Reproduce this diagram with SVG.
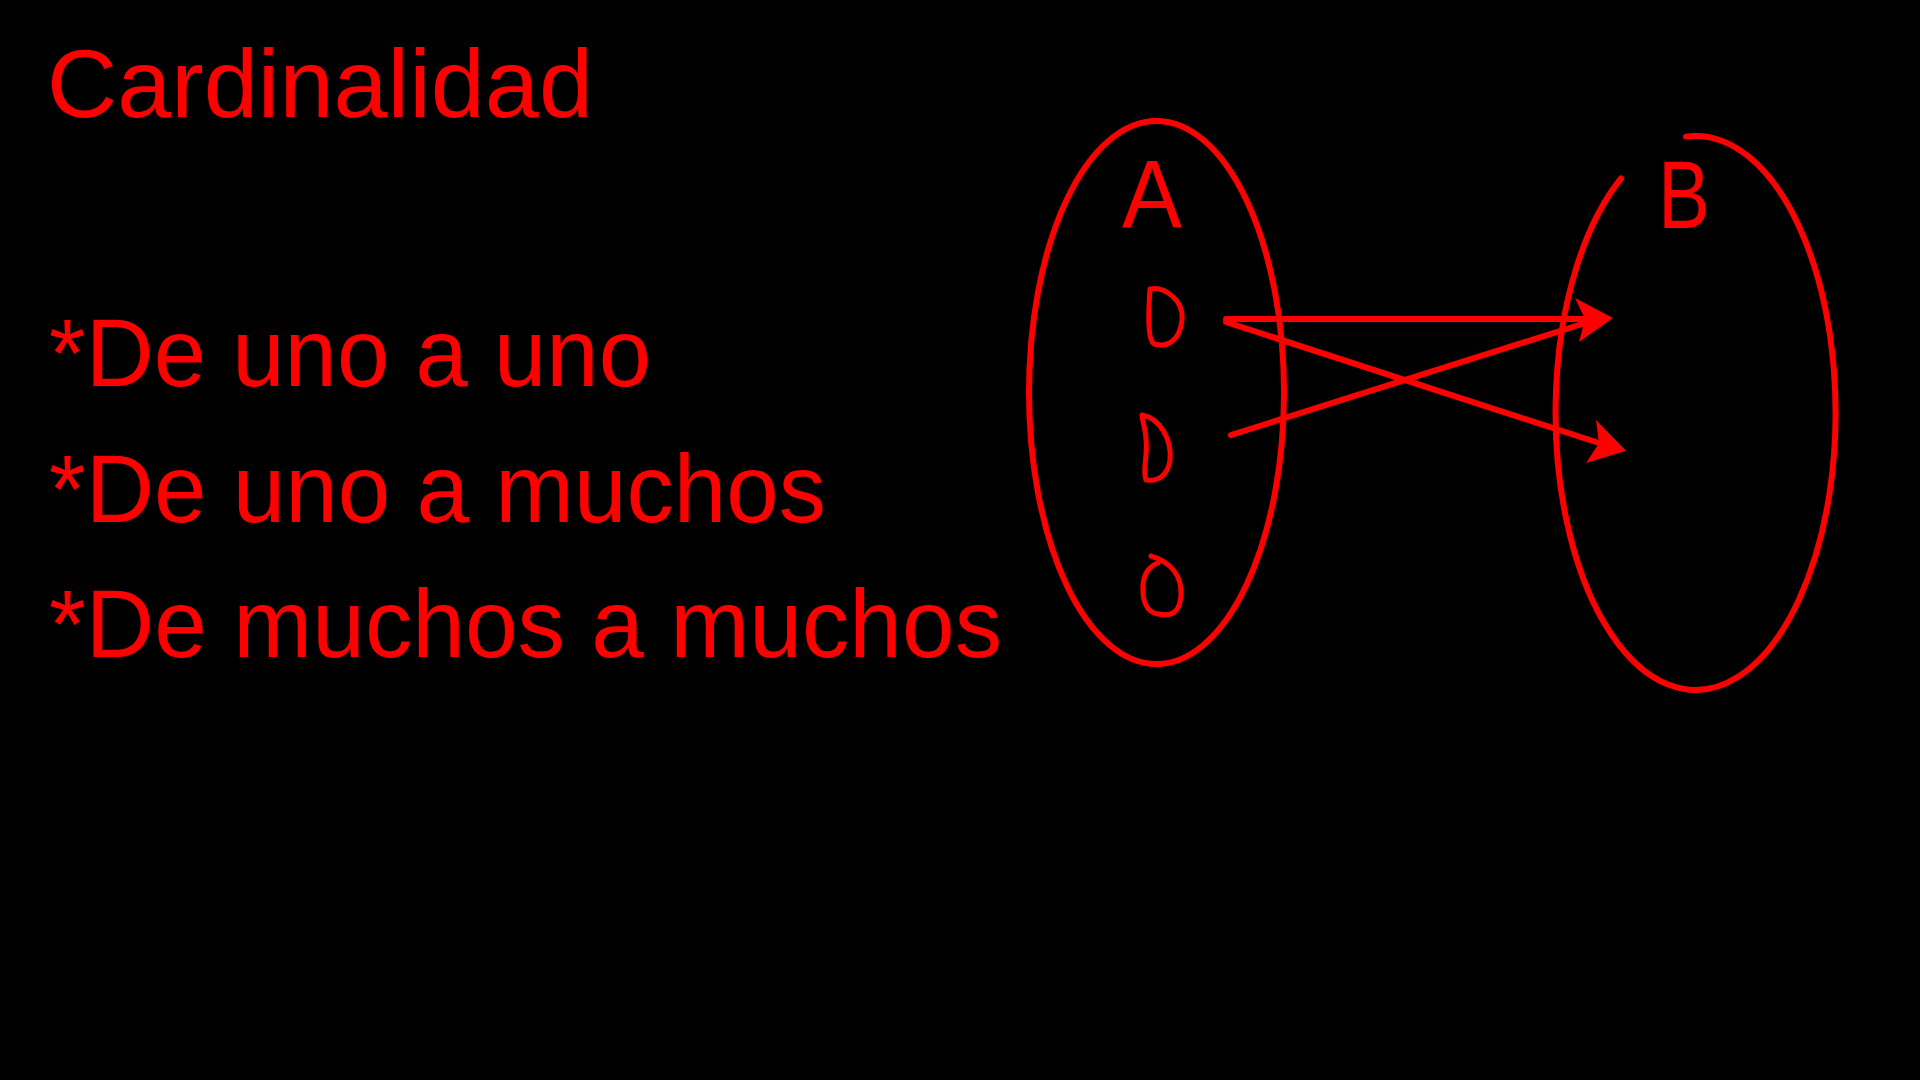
<svg xmlns="http://www.w3.org/2000/svg" width="1920" height="1080" viewBox="0 0 1920 1080">
<style>
.t{font-family:"Liberation Sans","Open Sans",sans-serif;fill:#ff0000;font-size:96px}
.lbl{font-family:"Liberation Sans","Open Sans",sans-serif;fill:#ff0000;font-size:96px}
.s{fill:none;stroke:#ff0000;stroke-width:6;stroke-linecap:round;stroke-linejoin:round}
.el{fill:none;stroke:#ff0000;stroke-width:5;stroke-linecap:round;stroke-linejoin:round}
</style>
<defs>
<marker id="ah" markerUnits="userSpaceOnUse" viewBox="0 0 40 44" markerWidth="40" markerHeight="44" refX="12" refY="21" orient="auto">
<path d="M2,0 L40,20 L6,44 L12,21 Z" fill="#ff0000"/>
</marker>
</defs>
<rect width="1920" height="1080" fill="#000"/>
<g id="title"><text class="t" x="47" y="117" textLength="546" lengthAdjust="spacingAndGlyphs">Cardinalidad</text></g>
<g id="list">
<text class="t" x="49" y="386" textLength="602" lengthAdjust="spacingAndGlyphs">*De uno a uno</text>
<text class="t" x="49" y="522" textLength="777" lengthAdjust="spacingAndGlyphs">*De uno a muchos</text>
<text class="t" x="49" y="657" textLength="953" lengthAdjust="spacingAndGlyphs">*De muchos a muchos</text>
</g>
<g id="setA">
<ellipse class="s" cx="1156.5" cy="392.5" rx="127.5" ry="271.5"/>
<text class="lbl" x="1122" y="227" textLength="60" lengthAdjust="spacingAndGlyphs">A</text>
<path class="el" d="M1150,289 C1164,286 1184,300 1182,320 C1180,340 1168,348 1154,344 C1148,340 1148,318 1150,289 Z"/>
<path class="el" d="M1142,415 C1160,418 1172,440 1170,460 C1168,475 1158,482 1146,480 C1142,470 1148,455 1146,440 C1146,430 1142,420 1142,415 Z"/>
<path class="el" d="M1151,556 C1170,562 1182,575 1181,595 C1180,612 1172,617 1158,614 C1146,612 1142,600 1143,585 C1144,572 1150,566 1158,563"/>
</g>
<g id="setB">
<path class="s" d="M1686,136.6 A140,277 0 1 1 1621,178.5"/>
<text class="lbl" x="1658" y="228" textLength="52" lengthAdjust="spacingAndGlyphs">B</text>
</g>
<g id="connectors">
<line class="s" x1="1226" y1="319" x2="1585" y2="319" marker-end="url(#ah)"/>
<line class="s" x1="1226" y1="322" x2="1599" y2="443" marker-end="url(#ah)"/>
<line class="s" x1="1231" y1="435" x2="1582" y2="324"/>
</g>
</svg>
